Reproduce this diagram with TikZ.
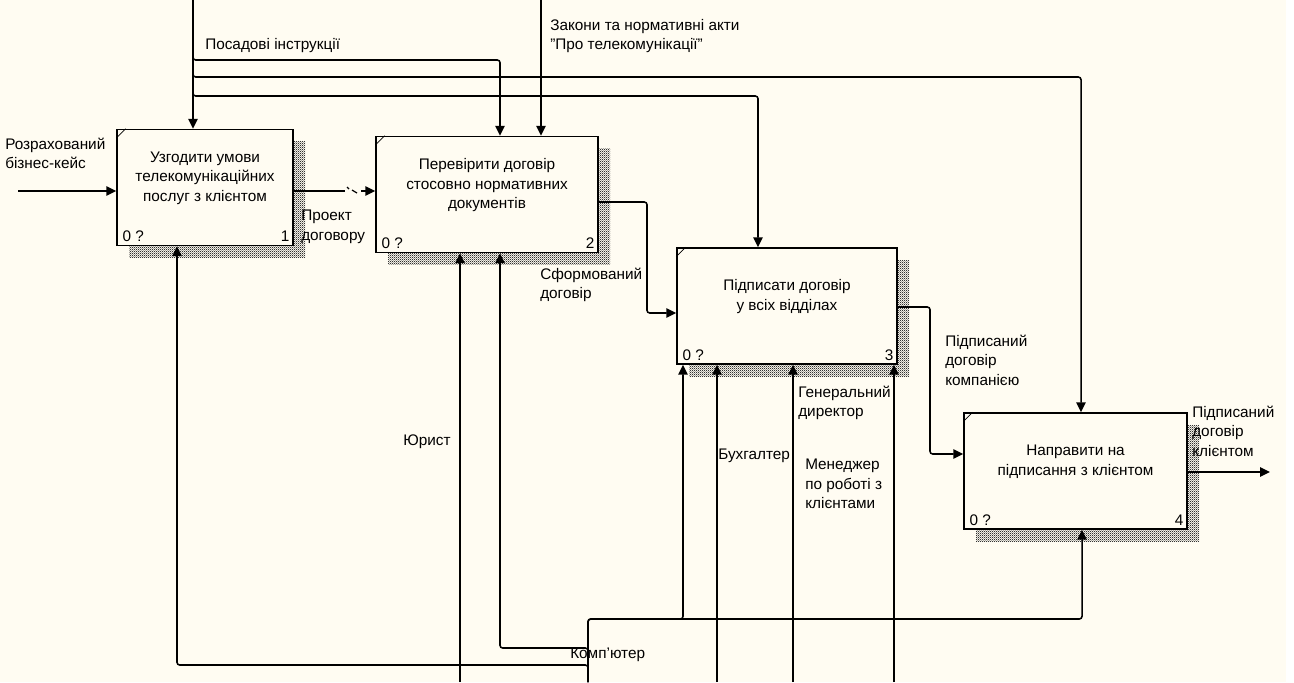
\documentclass[tikz,border=0pt]{standalone}
\usepackage{fontspec}
\setmainfont{Liberation Sans}
\usetikzlibrary{positioning}
\usetikzlibrary{arrows.meta,patterns}

\definecolor{paper}{RGB}{255,252,242}

\pgfdeclarepatternformonly{shadowdots}{\pgfpointorigin}{\pgfpoint{1.6pt}{1.6pt}}{\pgfpoint{1.6pt}{1.6pt}}{
  \pgfpathrectangle{\pgfpointorigin}{\pgfpoint{0.8pt}{0.8pt}}
  \pgfpathrectangle{\pgfpoint{0.8pt}{0.8pt}}{\pgfpoint{0.8pt}{0.8pt}}
  \pgfusepath{fill}
}

\begin{document}
\begin{tikzpicture}[x=0.75pt,y=-0.75pt,
  font=\fontsize{11.5}{14.5}\selectfont,
  box/.style={draw,line width=1.1pt,fill=paper,minimum height=87pt,inner sep=0pt,
    preaction={pattern=shadowdots,pattern color=black!80,
      transform canvas={shift={(9pt,-9pt)}}}},
  title/.style={align=center,inner sep=0pt},
  lbl/.style={align=left,inner sep=0pt,anchor=north west},
  num/.style={inner sep=0pt},
  arr/.style={line width=1.15pt,rounded corners=2pt,-{Triangle[length=7.5pt,width=7pt]}},
  ln/.style={line width=1.15pt,rounded corners=2pt}]

\fill[paper] (0,0) rectangle (1286,682);
\useasboundingbox (0,0) rectangle (1294,682);

% boxes
\node[box,minimum width=132pt] (b1) at (205,187.5) {};
\node[box,minimum width=166.5pt] (b2) at (487,194.5) {};
\node[box,minimum width=165pt] (b3) at (787,306) {};
\node[box,minimum width=167.25pt] (b4) at (1075.5,471) {};

\draw[line width=0.6pt] ([yshift=-7pt]b1.north west) -- ([xshift=7pt]b1.north west);
\draw[line width=0.6pt] ([yshift=-7pt]b2.north west) -- ([xshift=7pt]b2.north west);
\draw[line width=0.6pt] ([yshift=-7pt]b3.north west) -- ([xshift=7pt]b3.north west);
\draw[line width=0.6pt] ([yshift=-7pt]b4.north west) -- ([xshift=7pt]b4.north west);

\node[title] (t1) at ([yshift=7pt]b1.center) {Узгодити умови\\телекомунікаційних\\послуг з клієнтом};
\node[title] (t2) at ([yshift=7pt]b2.center) {Перевірити договір\\стосовно нормативних\\документів};
\node[title] (t3) at ([yshift=7pt]b3.center) {Підписати договір\\у всіх відділах};
\node[title] (t4) at ([yshift=7pt]b4.center) {Направити на\\підписання з клієнтом};

\node[num,anchor=south west] (z1) at ([shift={(4.5pt,3pt)}]b1.south west) {0 ?};
\node[num,anchor=south west] (z2) at ([shift={(4.5pt,3pt)}]b2.south west) {0 ?};
\node[num,anchor=south west] (z3) at ([shift={(4.5pt,3pt)}]b3.south west) {0 ?};
\node[num,anchor=south west] (z4) at ([shift={(4.5pt,3pt)}]b4.south west) {0 ?};
\node[num,anchor=south east] (n1) at ([shift={(-3pt,3pt)}]b1.south east) {1};
\node[num,anchor=south east] (n2) at ([shift={(-3pt,3pt)}]b2.south east) {2};
\node[num,anchor=south east] (n3) at ([shift={(-3pt,3pt)}]b3.south east) {3};
\node[num,anchor=south east] (n4) at ([shift={(-3pt,3pt)}]b4.south east) {4};

% controls
\coordinate (pi) at (193,0);
\coordinate (p2) at (500,60);
\coordinate (p4) at (1081,77);
\coordinate (p3) at (758,96);
\coordinate (zk) at (541,0);
\draw[arr] (pi) -- (pi |- b1.north);
\draw[arr] (pi) |- (p2) -- (p2 |- b2.north);
\draw[arr] (pi) |- (p4) -- (p4 |- b4.north);
\draw[arr] (pi) |- (p3) -- (p3 |- b3.north);
\draw[arr] (zk) -- (zk |- b2.north);

% inputs and outputs
\coordinate (rb) at (18,191);
\draw[arr] (rb) -- (rb -| b1.west);

\coordinate (g1) at (345,191);
\coordinate (g2) at (361,191);
\draw[ln] (g1 -| b1.east) -- (g1);
\draw[line width=0.9pt] ([shift={(2,-4)}]g1) -- ++(2,2) ([shift={(7,-1)}]g1) -- ++(5,3);
\draw[arr] (g2) -- (g2 -| b2.west);

\coordinate (d2) at (647,202);
\coordinate (d3) at (647,313);
\draw[arr] (d2 -| b2.east) -- (d2) -- (d3) -- (d3 -| b3.west);

\coordinate (e1) at (930,307);
\coordinate (e2) at (930,454);
\draw[arr] (e1 -| b3.east) -- (e1) -- (e2) -- (e2 -| b4.west);

\coordinate (f1) at (1270,472);
\draw[arr] (f1 -| b4.east) -- (f1);

% mechanisms
\coordinate (ju) at (460,682);
\coordinate (bu) at (717,682);
\coordinate (gd) at (793,682);
\coordinate (mn) at (894,682);
\draw[arr] (ju) -- (ju |- b2.south);
\draw[arr] (bu) -- (bu |- b3.south);
\draw[arr] (gd) -- (gd |- b3.south);
\draw[arr] (mn) -- (mn |- b3.south);

\coordinate (mk) at (588,682);
\coordinate (k1) at (177,665);
\coordinate (k2) at (500,648);
\coordinate (k3) at (683,619);
\coordinate (k4) at (1082,619);
\draw[arr] (mk) |- (k1) -- (k1 |- b1.south);
\draw[arr] (mk) |- (k2) -- (k2 |- b2.south);
\draw[arr] (mk) |- (k3) -- (k3 |- b3.south);
\draw[arr] (mk) |- (k4) -- (k4 |- b4.south);

% labels
\node[lbl] (l_pi) at (205,38) {Посадові інструкції};
\node[lbl] (l_zk) at (550,19) {Закони та нормативні акти\\"Про телекомунікації"};
\node[lbl] (l_rb) at (5,138) {Розрахований\\бізнес-кейс};
\node[lbl] (l_pd) at (301,210) {Проект\\договору};
\node[lbl] (l_sd) at (540,268) {Сформований\\договір};
\node[lbl] (l_pk) at (945,335) {Підписаний\\договір\\компанією};
\node[lbl] (l_pc) at (1192,406) {Підписаний\\договір\\клієнтом};
\node[lbl] (l_ju) at (403,435) {Юрист};
\node[lbl] (l_bu) at (718,449) {Бухгалтер};
\node[lbl] (l_gd) at (798,386) {Генеральний\\директор};
\node[lbl] (l_mn) at (805,459) {Менеджер\\по роботі з\\клієнтами};
\node[lbl] (l_mk) at (570,648) {Комп'ютер};

\end{tikzpicture}
\end{document}
